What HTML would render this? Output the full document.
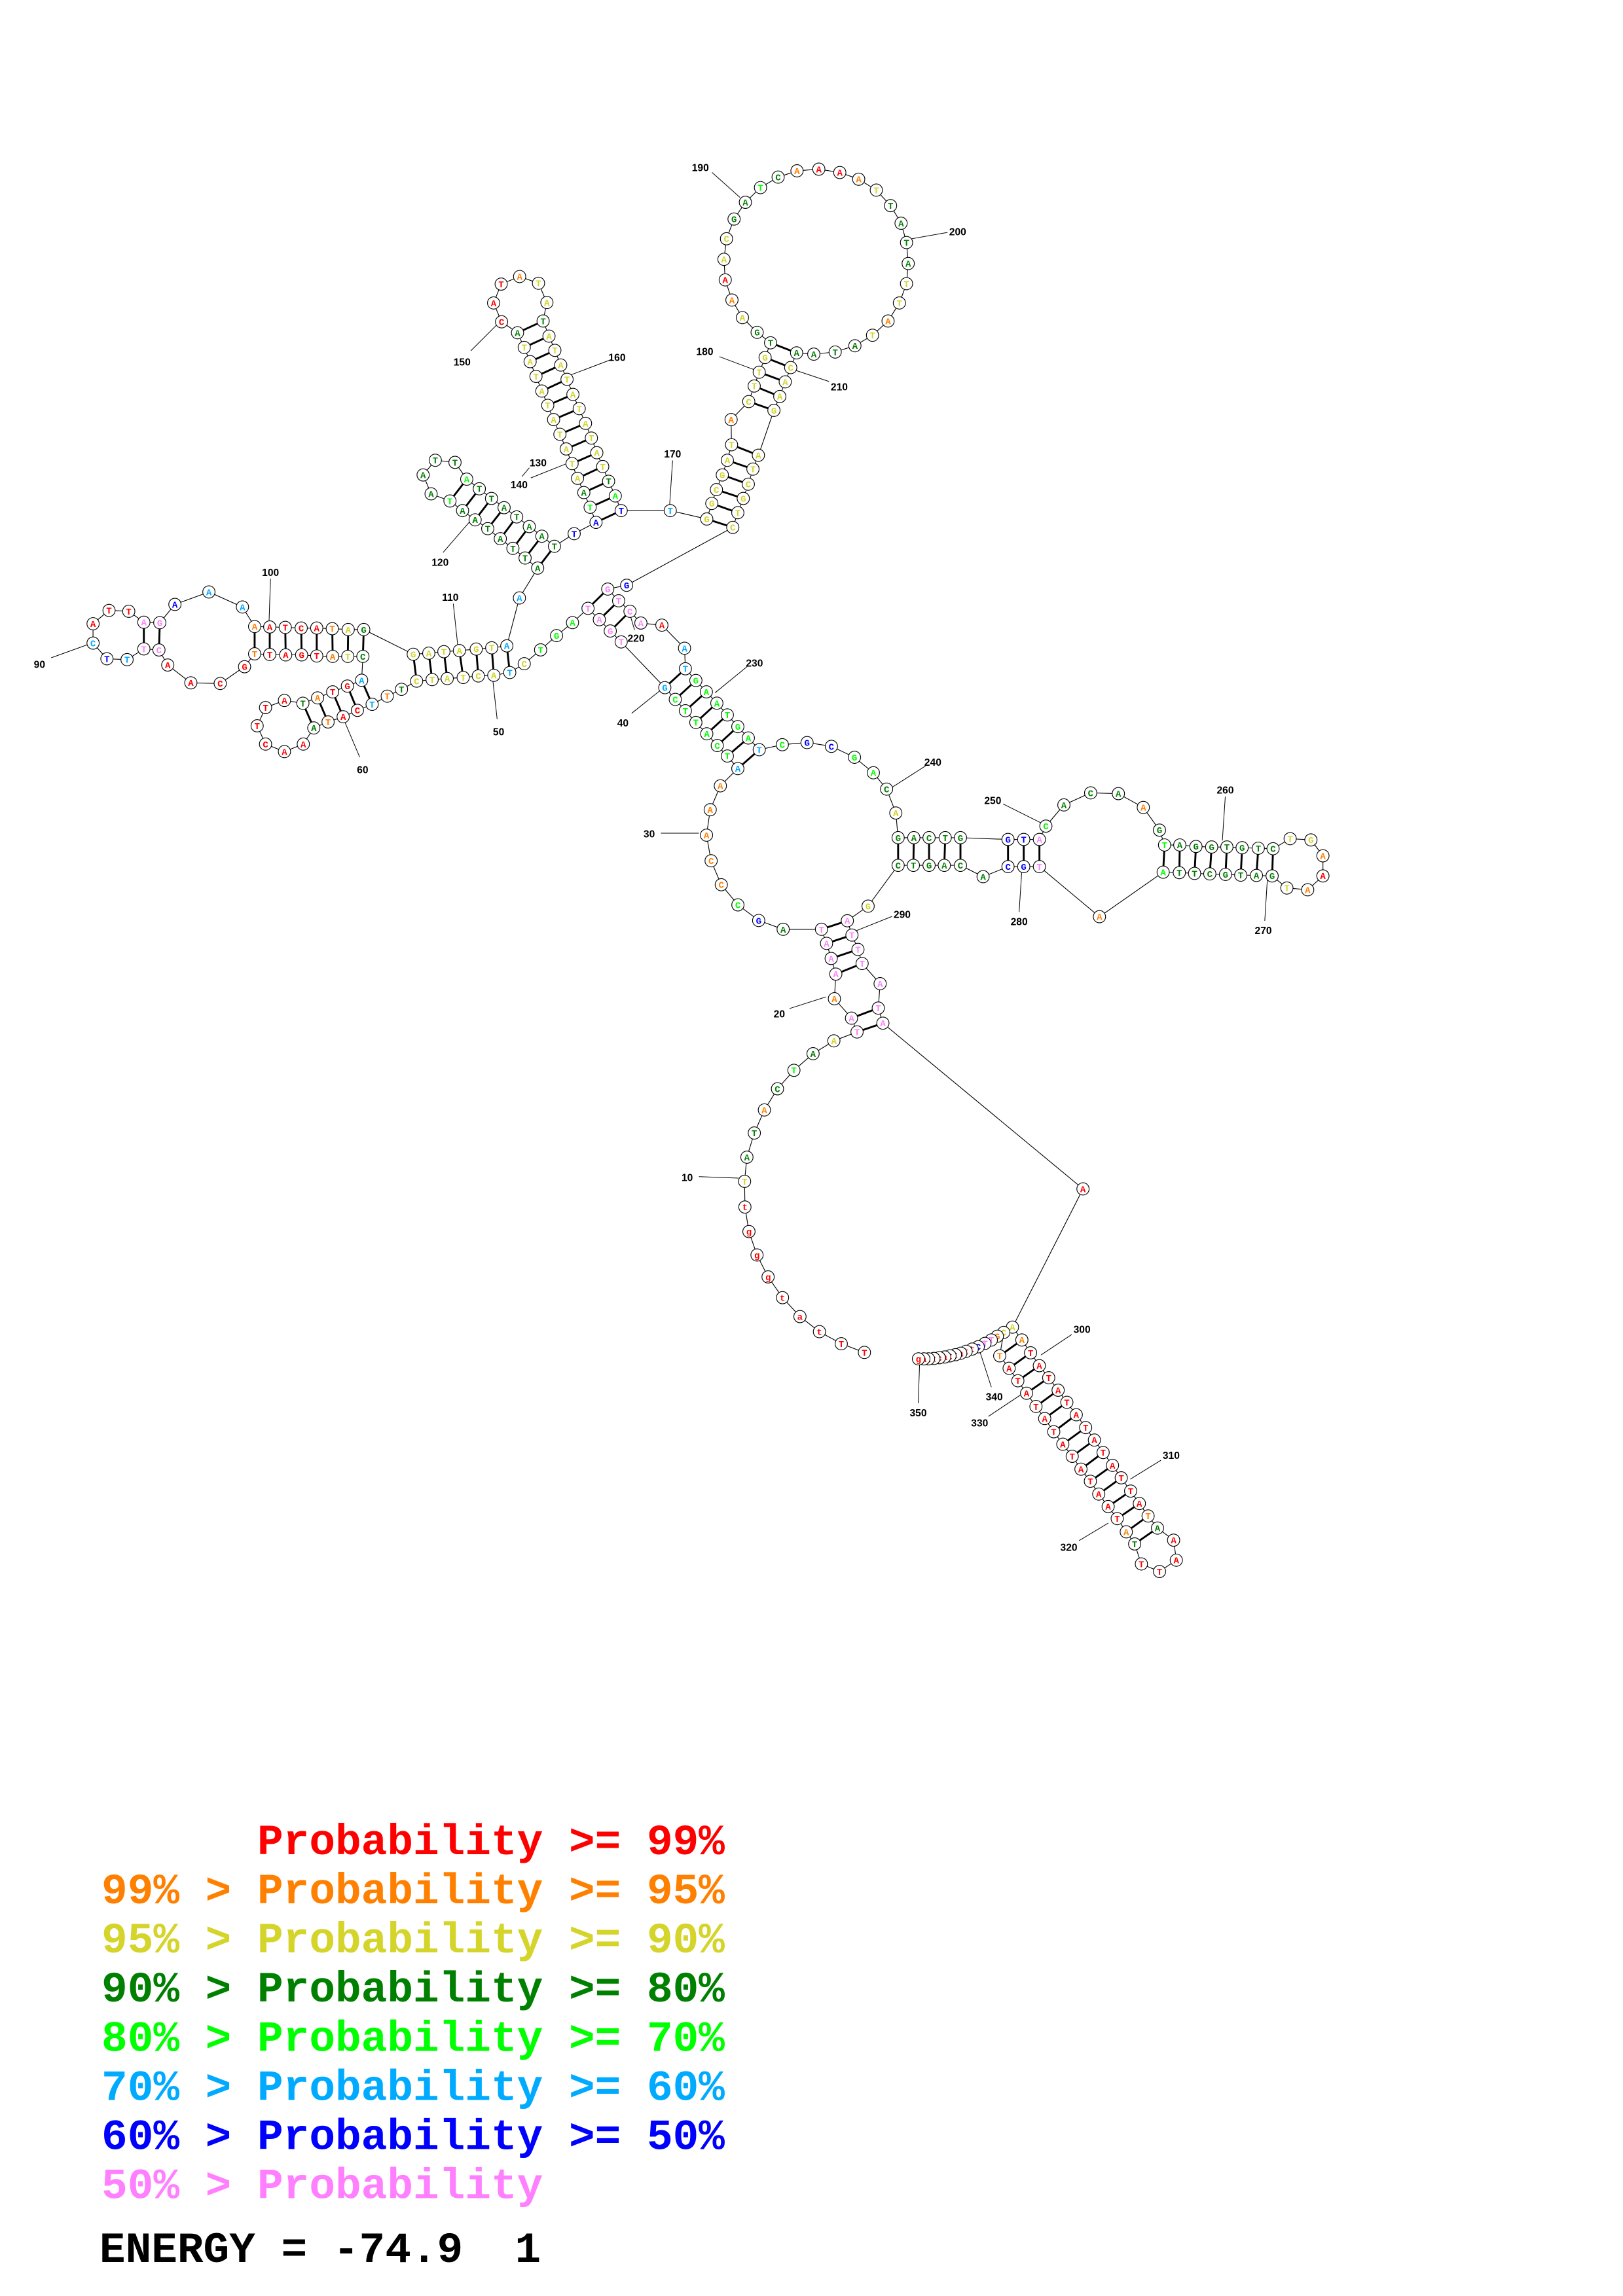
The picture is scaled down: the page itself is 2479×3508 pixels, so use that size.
<!DOCTYPE html>
<html><head><meta charset="utf-8">
<style>
html,body{margin:0;padding:0;background:#fff;}
svg{display:block;}
.lbl{font-family:"Liberation Sans",sans-serif;font-weight:bold;font-size:7px;fill:#000;text-anchor:middle;}
.leg{font-family:"Liberation Mono",monospace;font-weight:bold;font-size:29.6px;white-space:pre;}
</style></head>
<body>
<svg id="s" xmlns="http://www.w3.org/2000/svg" width="2479" height="3508" viewBox="0 0 1110 1570.8">
<rect width="1110" height="1570.8" fill="#fff"/>
<g id="bb"></g>
<g id="pairs"></g>
<g stroke="#000" stroke-width="0.45">
<line x1="478" y1="805" x2="505" y2="806"/><line x1="540" y1="690" x2="565" y2="682"/>
<line x1="452" y1="570" x2="478" y2="570"/><line x1="432" y1="488" x2="452" y2="472"/>
<line x1="340" y1="492" x2="337" y2="465"/><line x1="246" y1="518" x2="235" y2="492"/>
<line x1="35" y1="450" x2="60" y2="441"/><line x1="185" y1="396" x2="184" y2="425"/>
<line x1="310" y1="413" x2="313" y2="441"/><line x1="303" y1="378" x2="322" y2="356"/>
<line x1="362" y1="320" x2="357" y2="326"/><line x1="363" y1="327" x2="388" y2="317"/>
<line x1="322" y1="240" x2="341" y2="221"/><line x1="418" y1="246" x2="389" y2="257"/>
<line x1="460" y1="315" x2="458" y2="345"/><line x1="492" y1="244" x2="516" y2="253"/>
<line x1="487" y1="118" x2="506" y2="135"/><line x1="648" y1="159" x2="620" y2="164"/>
<line x1="567" y1="261" x2="540" y2="252"/><line x1="434" y1="431" x2="431" y2="421"/>
<line x1="511" y1="456" x2="489" y2="474"/><line x1="633" y1="524" x2="608" y2="540"/>
<line x1="686" y1="550" x2="712" y2="563"/><line x1="838" y1="545" x2="836" y2="575"/>
<line x1="865" y1="630" x2="867" y2="598"/><line x1="697" y1="624" x2="699" y2="593"/>
<line x1="610" y1="627" x2="585" y2="637"/><line x1="733" y1="913" x2="712" y2="927"/>
<line x1="794" y1="999" x2="773" y2="1012"/><line x1="738" y1="1054" x2="758" y2="1042"/>
<line x1="676" y1="969" x2="700" y2="953"/><line x1="678" y1="949" x2="668" y2="918"/>
<line x1="628" y1="960" x2="629" y2="931"/>
</g>
<g>
<text class="lbl" x="470" y="808">10</text><text class="lbl" x="533" y="696">20</text>
<text class="lbl" x="444" y="573">30</text><text class="lbl" x="426" y="497">40</text>
<text class="lbl" x="341" y="503">50</text><text class="lbl" x="248" y="529">60</text>
<text class="lbl" x="27" y="457">90</text><text class="lbl" x="185" y="394">100</text>
<text class="lbl" x="308" y="411">110</text><text class="lbl" x="301" y="387">120</text>
<text class="lbl" x="368" y="319">130</text><text class="lbl" x="355" y="334">140</text>
<text class="lbl" x="316" y="250">150</text><text class="lbl" x="422" y="247">160</text>
<text class="lbl" x="460" y="313">170</text><text class="lbl" x="482" y="243">180</text>
<text class="lbl" x="479" y="117">190</text><text class="lbl" x="655" y="161">200</text>
<text class="lbl" x="574" y="267">210</text><text class="lbl" x="435" y="439">220</text>
<text class="lbl" x="516" y="456">230</text><text class="lbl" x="638" y="524">240</text>
<text class="lbl" x="679" y="550">250</text><text class="lbl" x="838" y="543">260</text>
<text class="lbl" x="864" y="639">270</text><text class="lbl" x="697" y="633">280</text>
<text class="lbl" x="617" y="628">290</text><text class="lbl" x="740" y="912">300</text>
<text class="lbl" x="801" y="998">310</text><text class="lbl" x="731" y="1061">320</text>
<text class="lbl" x="670" y="976">330</text><text class="lbl" x="680" y="958">340</text>
<text class="lbl" x="628" y="969">350</text>
</g>
<g id="nodes"></g>
<g>
<text class="leg" x="69.4" y="1268.6" fill="#ff0000" xml:space="preserve">      Probability &gt;= 99%</text>
<text class="leg" x="69.4" y="1302.2" fill="#ff8000" xml:space="preserve">99% &gt; Probability &gt;= 95%</text>
<text class="leg" x="69.4" y="1335.8" fill="#d4d42a" xml:space="preserve">95% &gt; Probability &gt;= 90%</text>
<text class="leg" x="69.4" y="1369.4" fill="#008000" xml:space="preserve">90% &gt; Probability &gt;= 80%</text>
<text class="leg" x="69.4" y="1403.0" fill="#00ff00" xml:space="preserve">80% &gt; Probability &gt;= 70%</text>
<text class="leg" x="69.4" y="1436.6" fill="#00aaff" xml:space="preserve">70% &gt; Probability &gt;= 60%</text>
<text class="leg" x="69.4" y="1470.2" fill="#0000ff" xml:space="preserve">60% &gt; Probability &gt;= 50%</text>
<text class="leg" x="69.4" y="1503.8" fill="#ff80ff" xml:space="preserve">50% &gt; Probability</text>
<text class="leg" x="68" y="1547.5" fill="#000" xml:space="preserve">ENERGY = -74.9  1</text>
</g>
</svg>
<script>
(function(){
var Z={2:[268.7,0.287,89.6,0.287],3:[35.8,0.287,367.2,0.147],4:[425.4,0.3158,492.5,0.1722],5:[470.2,0.2296,694,0.2584]};
var C={r:"#ff0000",o:"#ff8000",y:"#d4d42a",d:"#008000",g:"#00ff00",c:"#00aaff",b:"#0000ff",p:"#ff80ff"};
var D="@5 T r 527 895;T r 458 872;t r 393 840;a r 335 800;t r 283 750;g r 240 695;g r 207 637;g r 183 575;t r 171 510;T y 170 442;A d 177 378;T d 199 314;A o 229 253;C d 268 197;T g 317 148;A d 374 104;A y 436 70;"+
"@4 T p 509 1240 a;A p 497 1185 b;A o 460 1108;A p 463 1010 c;A p 453 948 d;A p 443 888 e;T p 432 832 f;A d 349 832;G b 296 797;C g 251 735;C o 215 655;C o 193 560;A o 183 458;A o 191 357;A o 213 262;"+
"@2 A c 822 1520 g;T g 797 1490 h;C g 773 1465 i;A g 748 1437 j;T g 722 1410 k;T g 697 1382 l;C g 673 1355 m;G c 648 1327 n;T p 544 1218;G p 518 1192 q;A p 492 1165 p;T p 465 1138 o;A g 428 1172;G g 390 1203;T g 352 1237;C y 313 1270;"+
"@3 T c 1090 632 r;A y 1052 645 s;C y 1015 648 t;T y 979 655 u;A y 941 660 v;T y 905 665 w;C y 868 672 x;T d 832 710;T o 798 742;T c 762 780 y1;C r 727 808 y2;A r 693 838 y3;T o 657 862 y4;A d 623 890 y5;A r 598 965;A r 553 1000;C r 508 965;T r 488 880;T r 508 795;A r 553 762;T d 597 775 y5;A o 632 750 y4;T r 668 722 y3;G r 703 695 y2;A c 737 668 y1;C d 740 557 z1;T y 704 557 z2;A o 668 557 z3;T r 630 555 z4;G r 594 550 z5;A r 556 550 z6;T r 518 548 z7;T o 482 545 z8;G r 458 605;C r 400 683;A r 330 680;A r 275 597;C p 254 527 z9;T p 218 522 z10;T c 178 572;T b 130 568;C c 97 495;A r 97 405;T r 135 343;T r 182 347;A p 218 398 z10;G p 256 400 z9;A b 292 315;A c 373 257;A c 453 327;A o 482 418 z8;A r 518 420 z7;T r 555 422 z6;C r 593 425 z5;A r 630 425 z4;T o 667 428 z3;A y 705 432 z2;G d 742 432 z1;G y 860 547 x;A y 897 542 w;T y 933 535 v;A y 970 530 u;G y 1010 523 t;T y 1047 517 s;A c 1083 508 r;A c 1113 285;"+
"@2 A d 345 1042 a1;T d 315 1018 a2;T d 286 995 a3;A d 256 972 a4;T d 226 948 a5;A d 196 927 a6;A d 166 905 a7;T g 136 882 a8;A d 91 865;A d 72 820;T d 101 785;T d 148 790;A g 176 830 a8;T d 206 853 a7;T d 235 876 a6;A d 265 898 a5;T d 295 920 a4;A d 325 943 a3;A d 355 966 a2;T d 385 990 a1;T b 432 960;A b 484 933 b1;T g 470 897 b2;A d 455 862 b3;A y 440 828 b4;T y 427 793 b5;A y 413 758 b6;T y 398 723 b7;A y 383 688 b8;T y 369 654 b9;A y 355 620 b10;T y 341 585 b11;A y 327 550 b12;T y 313 516 b13;A d 297 481 b14;C r 259 455;A r 240 410;T r 258 365;A o 302 347;T y 347 363;A y 367 409;T d 358 453 b14;A y 372 489 b13;T y 386 523 b12;A y 400 558 b11;T y 415 592 b10;A y 429 628 b9;T y 444 662 b8;A y 459 697 b7;T y 473 732 b6;A y 486 767 b5;T y 500 800 b4;T d 514 835 b3;A g 530 870 b2;T b 544 905 b1;T c 661 905;G y 748 925 c1;G y 760 888 c2;C y 771 855 c3;G y 785 820 c4;A y 797 785 c5;T y 807 748 c6;A o 806 688;C y 848 645 c7;T y 861 608 c8;T y 873 575 c9;G y 887 540 c10;T d 900 505 c11;G d 868 480;A y 833 445;A o 808 403;A r 792 355;A y 789 306;C y 795 257;G d 813 210;A d 840 170;T g 876 135;C d 918 110;A o 963 95;A r 1015 91;A r 1065 99;A o 1110 115;T y 1152 141;T d 1186 178;A d 1211 220;T d 1224 266;A d 1228 316;T y 1224 364;T y 1207 410;A o 1180 453;T y 1143 487;A d 1101 512;T d 1054 527;A d 1003 532;A d 962 529 c11;C y 948 564 c10;A y 935 598 c9;A y 922 633 c8;G y 908 666 c7;A y 871 773 c6;T y 858 806 c5;C y 847 842 c4;G y 835 876 c3;T y 822 910 c2;C y 810 945 c1;G b 557 1083;G p 512 1092 o;T p 538 1120 p;C p 565 1145 q;A p 591 1173;A r 641 1178;A c 695 1233;T c 697 1282 n;G g 722 1310 m;A g 747 1337 l;A g 772 1364 k;T g 797 1392 j;G g 822 1420 i;A g 847 1447 h;T c 873 1475 g;C g 928 1463;G b 987 1458;C b 1045 1467;G g 1100 1493;A g 1145 1530;"+
"@4 C d 573 275;A y 593 370;G d 598 468 d1;A d 632 468 d2;C d 665 468 d3;T d 700 468 d4;G d 733 468 d5;G b 836 475 d6;T b 870 475 d7;A p 904 475 d8;C g 918 422;A d 957 338;C d 1015 290;A d 1075 293;A o 1129 348;G d 1164 438;T g 1175 497 e1;A d 1208 497 e2;G d 1243 503 e3;G d 1277 505 e4;T d 1310 505 e5;G d 1343 508 e6;T d 1378 510 e7;C d 1410 512 e8;T y 1447 472;G y 1492 477;A o 1518 540;A r 1518 620;A o 1485 675;T y 1440 668;G d 1408 620 e8;A d 1374 618 e7;T d 1340 617 e6;G d 1307 614 e5;C d 1273 612 e4;T d 1240 610 e3;T d 1207 607 e2;A g 1172 605 e1;A o 1034 782;T p 904 583 d8;G b 870 583 d7;C b 836 583 d6;A d 782 623;C d 733 578 d5;A d 698 578 d4;G d 665 578 d3;T d 631 578 d2;C d 598 578 d1;G y 533 740;A p 488 798 f;T p 498 855 e;T p 511 912 d;T p 520 968 c;A p 559 1048;T p 555 1145 b;A p 565 1205 a;"+
"@5 A r 1178 462;A y 968 828;A o 996 862 f1;T r 1022 896 f2;A r 1048 930 f3;T r 1076 962 f4;A r 1104 995 f5;T r 1130 1027 f6;A r 1158 1060 f7;T r 1186 1094 f8;A r 1212 1127 f9;T r 1238 1160 f10;A r 1266 1194 f11;T r 1292 1227 f12;T r 1320 1262 f13;A r 1346 1295 f14;T o 1372 1328 f15;A d 1400 1360 f16;A r 1448 1392;A r 1456 1445;T r 1406 1475;T r 1352 1455;T d 1332 1402 f16;A o 1307 1370 f15;T r 1280 1335 f14;A r 1253 1303 f13;A r 1225 1270 f12;T r 1200 1236 f11;A r 1172 1204 f10;T r 1146 1170 f9;A r 1118 1138 f8;T r 1091 1105 f7;A r 1064 1070 f6;T r 1038 1038 f5;A r 1010 1003 f4;T r 984 970 f3;A r 958 937 f2;T o 930 904 f1;"+
"C y 942 842;G o 923 852;T p 905 862;T p 886 871;C b 866 880;t r 848 886;t r 830 892;a r 814 897;t r 798 901;t r 782 904;a r 766 907;c r 750 909;t r 734 911;t r 718 912;a r 704 912;g r 688 912";
var z=5,N=[];
D.split(";").forEach(function(s){
  s=s.trim(); if(!s) return;
  if(s[0]=="@"){ z=+s.substr(1,1); s=s.substr(2).trim(); }
  var t=s.split(/\s+/), T=Z[z];
  N.push({L:t[0],c:C[t[1]],x:T[0]+(+t[2])*T[1],y:T[2]+(+t[3])*T[3],tag:t[4]});
});
var NS="http://www.w3.org/2000/svg";
function el(n,a,p){var e=document.createElementNS(NS,n);for(var k in a)e.setAttribute(k,a[k]);p.appendChild(e);return e;}
var bb=document.getElementById("bb"),pg=document.getElementById("pairs"),ng=document.getElementById("nodes");
el("polyline",{points:N.map(function(n){return n.x.toFixed(1)+","+n.y.toFixed(1)}).join(" "),fill:"none",stroke:"#000","stroke-width":"0.5"},bb);
var tags={};
N.forEach(function(n){ if(n.tag){ if(tags[n.tag]){var m=tags[n.tag]; el("line",{x1:m.x,y1:m.y,x2:n.x,y2:n.y,stroke:"#000","stroke-width":"1.3"},pg);} else tags[n.tag]=n; }});
N.forEach(function(n){
  el("circle",{cx:n.x,cy:n.y,r:"4.2",fill:"#fff",stroke:"#000","stroke-width":"0.5"},ng);
  var t=el("text",{x:n.x,y:n.y+2.2,fill:n.c,"text-anchor":"middle","font-family":"Liberation Mono, monospace","font-weight":"bold","font-size":"6.3"},ng);
  t.textContent=n.L;
});
})();
</script>
</body></html>
